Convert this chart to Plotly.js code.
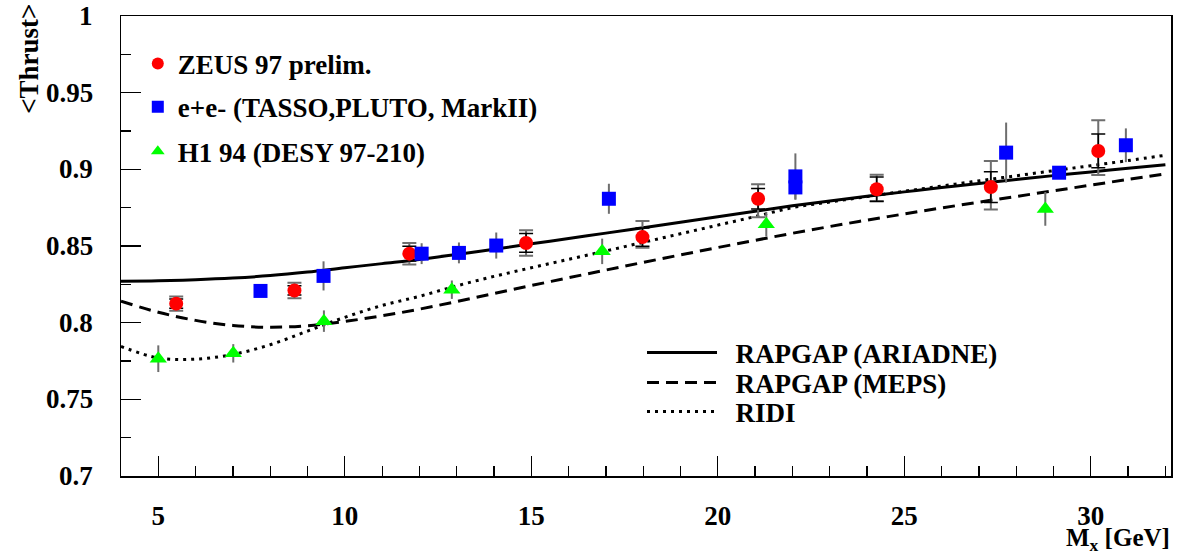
<!DOCTYPE html>
<html>
<head>
<meta charset="utf-8">
<script src="https://cdn.plot.ly/plotly-3.0.1.min.js"></script>
<style>html,body{margin:0;padding:0;background:#fff;}#chart{width:1177px;height:556px;}</style>
</head>
<body>
<div id="chart"></div>
<script>
// ZEUS 97 prelim.
const zeusX = [5.48, 8.65, 11.73, 14.86, 17.98, 21.08, 24.26, 27.32, 30.20];
const zeusY = [0.8124, 0.8210, 0.8450, 0.8520, 0.8558, 0.8808, 0.8870, 0.8884, 0.9120];
const zeusStat = [0.0030, 0.0030, 0.0048, 0.0061, 0.0060, 0.0067, 0.0080, 0.0100, 0.0110];
const zeusTotUp = [0.0047, 0.0050, 0.0070, 0.0083, 0.0105, 0.0094, 0.0094, 0.0170, 0.0200];
const zeusTotDn = [0.0047, 0.0050, 0.0070, 0.0083, 0.0070, 0.0120, 0.0076, 0.0146, 0.0157];
// e+e- (TASSO, PLUTO, MarkII)
const eeX = [7.74, 9.43, 12.06, 13.06, 14.06, 17.08, 22.08, 22.08, 27.73, 29.15, 30.94];
const eeY = [0.8207, 0.8305, 0.8450, 0.8455, 0.8503, 0.8808, 0.8954, 0.8882, 0.9109, 0.8978, 0.9157];
const eeErr = [0.002, 0.0095, 0.0068, 0.0068, 0.0085, 0.0098, 0.0150, 0.0080, 0.0196, 0.0040, 0.0110];
// H1 94 (DESY 97-210)
const h1X = [5.00, 7.01, 9.44, 12.87, 16.90, 21.30, 28.78];
const h1Y = [0.7765, 0.7800, 0.8010, 0.8215, 0.8465, 0.8642, 0.8742];
const h1Err = [0.0087, 0.0060, 0.0070, 0.0060, 0.0083, 0.0080, 0.0110];
// Model curves
const curveX = [4,5,6,7,8,9,10,11,12,13,14,15,16,17,18,19,20,21,22,23,24,25,26,27,28,29,30,31,32];
const ariadneY = [0.8270,0.8273,0.8280,0.8291,0.8307,0.8330,0.8358,0.8385,0.8412,0.8445,0.8479,0.8514,0.8549,0.8584,0.8619,0.8655,0.8691,0.8727,0.8762,0.8794,0.8824,0.8853,0.8881,0.8908,0.8934,0.8959,0.8983,0.9007,0.9030];
const mepsY = [0.8140,0.8068,0.8015,0.7982,0.7970,0.7980,0.8008,0.8045,0.8088,0.8138,0.8190,0.8242,0.8293,0.8343,0.8393,0.8442,0.8490,0.8537,0.8583,0.8627,0.8669,0.8709,0.8748,0.8786,0.8823,0.8860,0.8897,0.8934,0.8970];
const ridiY = [0.7845,0.7770,0.7762,0.7793,0.7856,0.7945,0.8035,0.8112,0.8172,0.8240,0.8302,0.8358,0.8413,0.8468,0.8524,0.8580,0.8636,0.8692,0.8750,0.8787,0.8822,0.8857,0.8891,0.8925,0.8958,0.8991,0.9024,0.9057,0.9092];
const yTickVals = [0.7, 0.75, 0.8, 0.85, 0.9, 0.95, 1];
const yTickText = ["0.7", "0.75", "0.8", "0.85", "0.9", "0.95", "1"];
const xTickVals = [5, 10, 15, 20, 25, 30];
const xTickText = ["5", "10", "15", "20", "25", "30"];

const FONT = "'Liberation Serif', 'Times New Roman', serif";
const F = (s) => ({family: FONT, size: s, color: '#000', weight: 'bold'});

const traces = [
  {x: curveX, y: ariadneY, type: 'scatter', mode: 'lines', name: '&nbsp;&nbsp;RAPGAP (ARIADNE)',
   line: {color: '#000', width: 3, shape: 'spline', smoothing: 1}, legend: 'legend4'},
  {x: curveX, y: mepsY, type: 'scatter', mode: 'lines', name: '&nbsp;&nbsp;RAPGAP (MEPS)',
   line: {color: '#000', width: 3, dash: '12px,7px', shape: 'spline', smoothing: 1}, legend: 'legend5'},
  {x: curveX, y: ridiY, type: 'scatter', mode: 'lines', name: '&nbsp;&nbsp;RIDI',
   line: {color: '#000', width: 3, dash: '3px,5px', shape: 'spline', smoothing: 1}, legend: 'legend6'},
  // ZEUS total errors (grey, outer)
  {x: zeusX, y: zeusY, type: 'scatter', mode: 'markers', showlegend: false, hoverinfo: 'skip',
   marker: {size: 13, color: 'rgba(0,0,0,0)'},
   error_y: {type: 'data', symmetric: false, array: zeusTotUp, arrayminus: zeusTotDn, color: '#6e6e6e', thickness: 2, width: 7}},
  {x: zeusX, y: zeusY, type: 'scatter', mode: 'markers', name: 'ZEUS 97 prelim.', legend: 'legend',
   marker: {symbol: 'circle', size: 14, color: '#ff0000', line: {width: 0}},
   error_y: {type: 'data', array: zeusStat, color: '#000', thickness: 1.5, width: 7}},
  {x: eeX, y: eeY, type: 'scatter', mode: 'markers', name: 'e+e- (TASSO,PLUTO, MarkII)', legend: 'legend2',
   marker: {symbol: 'square', size: 14, color: '#0000ff', line: {width: 0}},
   error_y: {type: 'data', array: eeErr, color: '#6e6e6e', thickness: 2, width: 0}},
  {x: h1X, y: h1Y, type: 'scatter', mode: 'markers', name: 'H1 94 (DESY 97-210)', legend: 'legend3',
   marker: {symbol: 'triangle-up', size: 15, color: '#00ff00', line: {width: 0}},
   error_y: {type: 'data', array: h1Err, color: '#6e6e6e', thickness: 2, width: 0}}
];

function markerLegend(y) {
  return {x: 0.016, y: y, xanchor: 'left', yanchor: 'middle', bgcolor: 'rgba(0,0,0,0)',
          borderwidth: 0, font: F(27), itemsizing: 'constant'};
}
function lineLegend(y) {
  return {x: 0.4962, y: y, xanchor: 'left', yanchor: 'middle', bgcolor: 'rgba(0,0,0,0)',
          borderwidth: 0, font: F(27), itemwidth: 70};
}

// y tick labels as text placed on the y scale, right-aligned 27 px left of the frame
const yLabelAnn = yTickVals.map((v, i) => ({
  xref: 'paper', yref: 'y', x: -0.0257, y: v, xanchor: 'right', yanchor: 'middle',
  text: yTickText[i], showarrow: false, borderpad: 0, font: F(27)
}));

const layout = {
  width: 1177, height: 556,
  margin: {l: 121, r: 6, t: 16, b: 80},
  paper_bgcolor: '#fff', plot_bgcolor: '#fff',
  font: F(27),
  showlegend: true,
  xaxis: {
    range: [4, 32.15], showgrid: false, zeroline: false,
    showline: true, linecolor: '#000', linewidth: 1.5, mirror: true,
    ticks: 'inside', ticklen: 20, tickwidth: 1.2, tickcolor: '#000',
    tickvals: xTickVals, ticktext: xTickText, ticklabelstandoff: 15,
    tickfont: F(27),
    minor: {dtick: 1, tick0: 0, ticks: 'inside', ticklen: 10, tickwidth: 1.2, tickcolor: '#000', showgrid: false}
  },
  yaxis: {
    range: [0.7, 1.0], showgrid: false, zeroline: false,
    showline: true, linecolor: '#000', linewidth: 1.5, mirror: true,
    ticks: 'inside', ticklen: 20, tickwidth: 1.2, tickcolor: '#000',
    tickvals: yTickVals, showticklabels: false,
    minor: {dtick: 0.025, tick0: 0.7, ticks: 'inside', ticklen: 10, tickwidth: 1.2, tickcolor: '#000', showgrid: false}
  },
  legend: markerLegend(0.8957),
  legend2: markerLegend(0.802),
  legend3: markerLegend(0.705),
  legend4: lineLegend(0.2674),
  legend5: lineLegend(0.2022),
  legend6: lineLegend(0.1391),
  annotations: yLabelAnn.concat([
    {xref: 'paper', yref: 'paper', x: -0.087, y: 1.03, xanchor: 'center', yanchor: 'top',
     text: '&lt;Thrust&gt;', textangle: -90, showarrow: false, font: F(27)},
    {xref: 'paper', yref: 'paper', x: 1.0, y: -0.1739, xanchor: 'right', yanchor: 'bottom', borderpad: 0,
     text: 'M<sub>x</sub> [GeV]', showarrow: false, font: F(25)}
  ])
};

Plotly.newPlot('chart', traces, layout, {displayModeBar: false, staticPlot: true});
</script>
</body>
</html>
